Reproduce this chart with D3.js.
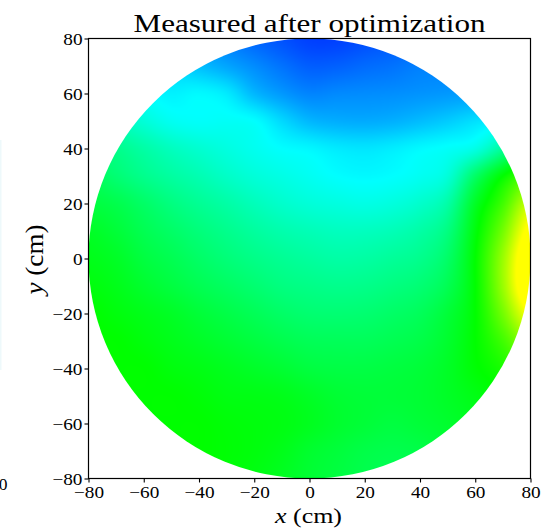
<!DOCTYPE html>
<html>
<head>
<meta charset="utf-8">
<script src="https://cdn.jsdelivr.net/npm/d3@7"></script>
<style>
  html, body { margin: 0; padding: 0; background: #fff; }
  svg { display: block; }
</style>
</head>
<body>
<svg id="chart" width="543" height="529"></svg>
<script>
// ---------------- DATA ----------------
const titleText = "Measured after optimization";
const xTicks = [-80, -60, -40, -20, 0, 20, 40, 60, 80];
const yTicks = [-80, -60, -40, -20, 0, 20, 40, 60, 80];
const gridX = [-80, -70, -60, -50, -40, -30, -20, -10, 0, 10, 20, 30, 40, 50, 60, 70, 80];
const gridY = [80, 70, 60, 50, 40, 30, 20, 10, 0, -10, -20, -30, -40, -50, -60, -70, -80];
// field value (colour index: 0 blue, 1 cyan, 2 green, 3 yellow) at each grid point, one row per y
const rowY80  = [1.0, 0.9, 0.8, 0.7, 0.6, 0.5, 0.4, 0.32, 0.25, 0.25, 0.3, 0.35, 0.4, 0.45, 0.5, 0.55, 0.6];
const rowY70  = [1.0, 0.95, 0.9, 0.85, 0.75, 0.65, 0.55, 0.45, 0.37, 0.38, 0.42, 0.45, 0.5, 0.52, 0.57, 0.6, 0.65];
const rowY60  = [1.1, 1.05, 1.0, 0.95, 0.98, 0.92, 0.72, 0.6, 0.52, 0.54, 0.55, 0.56, 0.58, 0.6, 0.63, 0.67, 0.7];
const rowY50  = [1.3, 1.25, 1.15, 1.05, 1.02, 1.03, 1.0, 0.85, 0.72, 0.68, 0.67, 0.69, 0.74, 0.8, 0.88, 0.95, 1.0];
const rowY40  = [1.5, 1.45, 1.35, 1.25, 1.18, 1.12, 1.06, 1.0, 0.97, 0.92, 0.9, 0.93, 0.98, 1.02, 1.1, 1.4, 1.7];
const rowY30  = [1.65, 1.55, 1.45, 1.37, 1.3, 1.22, 1.15, 1.1, 1.05, 1.0, 0.98, 1.0, 1.05, 1.15, 1.6, 2.0, 2.3];
const rowY20  = [1.75, 1.7, 1.6, 1.5, 1.42, 1.35, 1.27, 1.2, 1.15, 1.12, 1.1, 1.13, 1.2, 1.35, 1.85, 2.25, 2.8];
const rowY10  = [1.85, 1.78, 1.68, 1.6, 1.52, 1.45, 1.38, 1.32, 1.28, 1.25, 1.25, 1.28, 1.35, 1.5, 1.95, 2.45, 3.1];
const rowY0   = [1.9, 1.85, 1.75, 1.68, 1.6, 1.53, 1.47, 1.42, 1.38, 1.35, 1.36, 1.4, 1.45, 1.6, 2.0, 2.6, 3.3];
const rowYm10 = [1.95, 1.9, 1.82, 1.75, 1.68, 1.62, 1.56, 1.5, 1.47, 1.45, 1.46, 1.5, 1.55, 1.68, 2.0, 2.6, 3.3];
const rowYm20 = [2.0, 1.95, 1.9, 1.85, 1.78, 1.72, 1.66, 1.6, 1.56, 1.55, 1.56, 1.6, 1.65, 1.78, 2.0, 2.45, 3.0];
const rowYm30 = [2.0, 2.0, 1.95, 1.9, 1.85, 1.8, 1.75, 1.7, 1.66, 1.65, 1.65, 1.68, 1.72, 1.82, 2.0, 2.25, 2.6];
const rowYm40 = [2.0, 2.0, 2.0, 1.95, 1.92, 1.88, 1.84, 1.8, 1.75, 1.73, 1.73, 1.75, 1.78, 1.85, 1.98, 2.1, 2.3];
const rowYm50 = [2.0, 2.0, 2.0, 2.0, 1.97, 1.93, 1.92, 1.9, 1.85, 1.8, 1.78, 1.78, 1.8, 1.85, 1.92, 2.0, 2.1];
const rowYm60 = [2.0, 2.0, 2.0, 2.0, 2.0, 1.97, 1.95, 1.93, 1.88, 1.82, 1.78, 1.75, 1.78, 1.82, 1.88, 1.95, 2.0];
const rowYm70 = [2.0, 2.0, 2.0, 2.0, 2.0, 1.98, 1.95, 1.9, 1.82, 1.77, 1.72, 1.7, 1.72, 1.78, 1.85, 1.9, 2.0];
const rowYm80 = [2.0, 2.0, 2.0, 2.0, 2.0, 1.97, 1.93, 1.87, 1.8, 1.75, 1.7, 1.68, 1.7, 1.75, 1.8, 1.85, 1.9];
const fieldRows = [rowY80, rowY70, rowY60, rowY50, rowY40, rowY30, rowY20, rowY10, rowY0,
                   rowYm10, rowYm20, rowYm30, rowYm40, rowYm50, rowYm60, rowYm70, rowYm80];
const colorDomain = [0, 1, 2, 3];
const colorStops = ["#0000ff", "#00ffff", "#00ff00", "#ffff00"];
const diskRadius = 80;

// ---------------- LAYOUT ----------------
const mLeft = 88.5, mRight = 530.5, mTop = 38.5, mBottom = 478.5;
const svg = d3.select("#chart");
const FONT = "'Liberation Serif', 'Times New Roman', serif";

const x = d3.scaleLinear().domain([-80, 80]).range([mLeft, mRight]);
const y = d3.scaleLinear().domain([-80, 80]).range([mBottom, mTop]);
const color = d3.scaleLinear().domain(colorDomain).range(colorStops).clamp(true);

// ---------------- FIELD RASTER ----------------
const W = Math.round(mRight - mLeft), H = Math.round(mBottom - mTop);
const canvas = document.createElement("canvas");
canvas.width = W; canvas.height = H;
const ctx = canvas.getContext("2d");
const img = ctx.createImageData(W, H);

const LUT_N = 1024;
const lut = [];
for (let k = 0; k < LUT_N; k++) {
  const v = colorDomain[0] + (colorDomain[colorDomain.length - 1] - colorDomain[0]) * k / (LUT_N - 1);
  const c = d3.rgb(color(v));
  lut.push([c.r, c.g, c.b]);
}
const nRows = gridY.length, nCols = gridX.length;
const stepX = gridX[1] - gridX[0], stepY = gridY[0] - gridY[1];
function val(r, c) {
  r = Math.max(0, Math.min(nRows - 1, r));
  c = Math.max(0, Math.min(nCols - 1, c));
  return fieldRows[r][c];
}
function cr(p0, p1, p2, p3, t) {
  return 0.5 * ((2 * p1) + (-p0 + p2) * t + (2 * p0 - 5 * p1 + 4 * p2 - p3) * t * t + (-p0 + 3 * p1 - 3 * p2 + p3) * t * t * t);
}
function sample(xv, yv) {
  const gx = (xv - gridX[0]) / stepX;
  const gy = (gridY[0] - yv) / stepY;
  const c0 = Math.floor(gx), r0 = Math.floor(gy);
  const tx = gx - c0, ty = gy - r0;
  const cols = [];
  for (let dr = -1; dr <= 2; dr++) {
    const r = r0 + dr;
    cols.push(cr(val(r, c0 - 1), val(r, c0), val(r, c0 + 1), val(r, c0 + 2), tx));
  }
  return cr(cols[0], cols[1], cols[2], cols[3], ty);
}
const vmin = colorDomain[0], vmax = colorDomain[colorDomain.length - 1];
for (let j = 0; j < H; j++) {
  const yv = y.invert(mTop + j + 0.5);
  for (let i = 0; i < W; i++) {
    const xv = x.invert(mLeft + i + 0.5);
    const idx = (j * W + i) * 4;
    if (xv * xv + yv * yv > (diskRadius + 1.5) * (diskRadius + 1.5)) { img.data[idx + 3] = 0; continue; }
    let v = sample(xv, yv);
    v = Math.max(vmin, Math.min(vmax, v));
    const k = Math.round((v - vmin) / (vmax - vmin) * (LUT_N - 1));
    const c = lut[k];
    img.data[idx] = c[0]; img.data[idx + 1] = c[1]; img.data[idx + 2] = c[2]; img.data[idx + 3] = 255;
  }
}
ctx.putImageData(img, 0, 0);

const defs = svg.append("defs");
defs.append("clipPath").attr("id", "disk")
  .append("ellipse")
  .attr("cx", x(0)).attr("cy", y(0))
  .attr("rx", x(diskRadius) - x(0)).attr("ry", y(0) - y(diskRadius));

svg.append("image")
  .attr("x", mLeft).attr("y", mTop)
  .attr("width", W).attr("height", H)
  .attr("preserveAspectRatio", "none")
  .attr("href", canvas.toDataURL())
  .attr("clip-path", "url(#disk)");

// faint fragment of neighbouring panel at the left edge
svg.append("rect").attr("x", 0).attr("y", 140).attr("width", 1.5).attr("height", 230)
  .attr("fill", "#eef9fb");

// ---------------- AXES ----------------
const xAxis = d3.axisBottom(x).tickValues(xTicks).tickSize(4).tickSizeOuter(0).tickPadding(3.5);
const yAxis = d3.axisLeft(y).tickValues(yTicks).tickSize(4).tickSizeOuter(0).tickPadding(2);

const gX = svg.append("g").attr("transform", `translate(0,${mBottom})`).call(xAxis);
const gY = svg.append("g").attr("transform", `translate(${mLeft},0)`).call(yAxis);
[gX, gY].forEach(g => {
  g.select(".domain").remove();
  g.selectAll(".tick line").attr("stroke", "#000").attr("stroke-width", 1.1);
  g.selectAll(".tick text").attr("font-family", FONT).attr("font-size", 17.5).attr("fill", "#000");
});
function stretch(sel, factor) {
  sel.each(function () {
    const w = this.getComputedTextLength();
    d3.select(this).attr("textLength", w * factor).attr("lengthAdjust", "spacingAndGlyphs");
  });
}
stretch(gX.selectAll(".tick text"), 1.1);
stretch(gY.selectAll(".tick text"), 1.1);

// frame
svg.append("rect")
  .attr("x", mLeft).attr("y", mTop)
  .attr("width", mRight - mLeft).attr("height", mBottom - mTop)
  .attr("fill", "none").attr("stroke", "#000").attr("stroke-width", 1.2);

// ---------------- TEXT ----------------
svg.append("text")
  .attr("x", (mLeft + mRight) / 2).attr("y", 32)
  .attr("text-anchor", "middle")
  .attr("font-family", FONT).attr("font-size", 26).attr("fill", "#000")
  .attr("textLength", 352).attr("lengthAdjust", "spacingAndGlyphs")
  .text(titleText);

const xl = svg.append("text")
  .attr("x", (mLeft + mRight) / 2 - 1).attr("y", 523)
  .attr("text-anchor", "middle")
  .attr("font-family", FONT).attr("font-size", 22).attr("fill", "#000")
  .attr("textLength", 67).attr("lengthAdjust", "spacingAndGlyphs");
xl.append("tspan").attr("font-style", "italic").text("x");
xl.append("tspan").text(" (cm)");

const yl = svg.append("text")
  .attr("transform", `translate(43,${(mTop + mBottom) / 2 + 1}) rotate(-90)`)
  .attr("text-anchor", "middle")
  .attr("font-family", FONT).attr("font-size", 25).attr("fill", "#000")
  .attr("textLength", 70).attr("lengthAdjust", "spacingAndGlyphs");
yl.append("tspan").attr("font-style", "italic").text("y");
yl.append("tspan").text(" (cm)");

// clipped tick label fragment from neighbouring panel
svg.append("text")
  .attr("x", 7.5).attr("y", 490)
  .attr("text-anchor", "end")
  .attr("font-family", FONT).attr("font-size", 17.5).attr("fill", "#000")
  .text("0");
</script>
</body>
</html>
